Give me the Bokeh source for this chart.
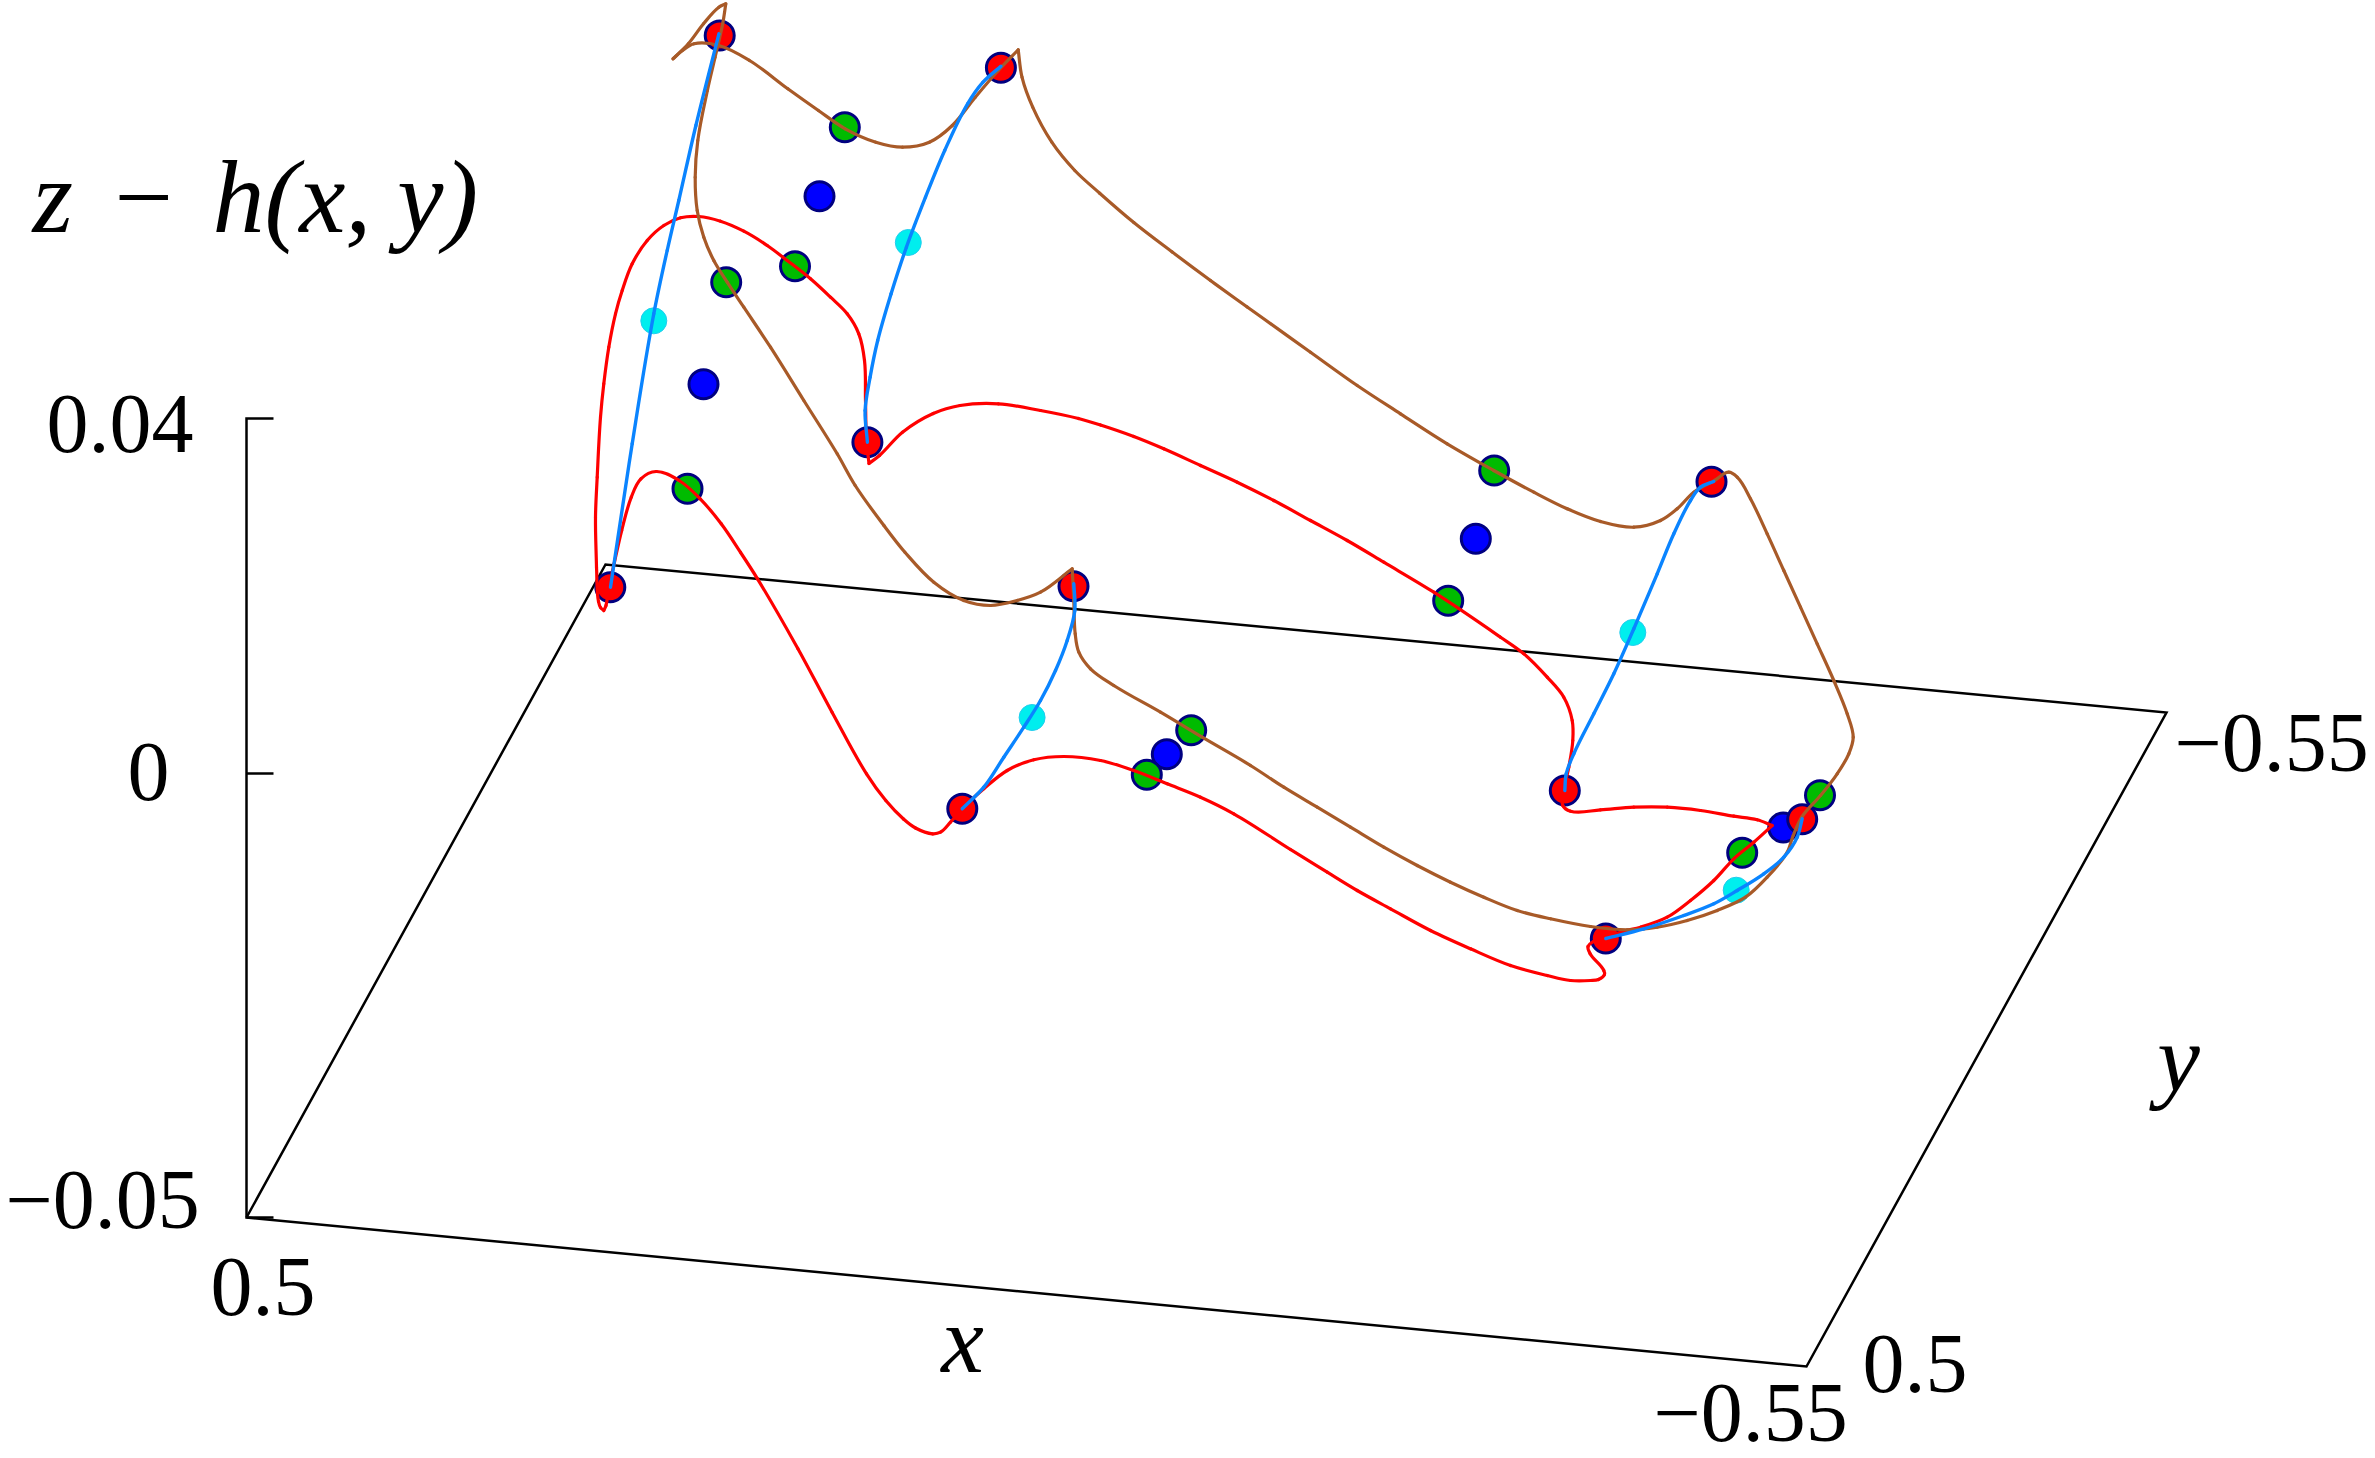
import math
from bokeh.plotting import figure
from bokeh.embed import file_html
from bokeh.resources import INLINE
from bokeh.core.properties import value

# Box of the projected 3D axes (projected picture coordinates)
box_x = [246, 605, 2166, 1806, 246]
box_y = [1217, 564, 712, 1366, 1217]
z_axis_x = [273, 246, 246, 273]
z_axis_y = [418, 418, 1217, 1217]
z_tick0_x = [246, 273]
z_tick0_y = [773, 773]

# Markers
red_x = [719.2, 1000.4, 866.9, 609.8, 1073, 961.8, 1711, 1564.3, 1801.7, 1605.3]
red_y = [35, 67.3, 441.7, 586.7, 585.8, 808.3, 481.3, 790, 818.7, 938]
green_x = [844.3, 794.5, 725.7, 687, 1146.3, 1190.7, 1493.7, 1447.7, 1819.5, 1741.7]
green_y = [126.7, 265.7, 281.7, 488.3, 774.3, 729.7, 470, 600.3, 794.7, 852.3]
blue_x = [819, 703, 1166.3, 1475.3, 1782.7]
blue_y = [195.7, 383.7, 753.7, 538.3, 827]
cyan_x = [907.8, 653.3, 1031.6, 1632.3, 1735.7]
cyan_y = [242, 320.3, 717, 632, 889.7]

# Closed red curve
red_curve_x = [596, 595, 596.7, 600, 603.3, 608.3, 615, 621.7, 631.7, 646.7, 663.3, 680, 698.3, 720, 743.3,
               766.7, 786.7, 810, 830, 846.7, 858.3, 864, 865, 866, 868.5, 879, 902, 932.7, 959.5, 997.8, 1040,
               1078, 1100, 1133.3, 1163.3, 1200, 1236.7, 1273.3, 1310, 1346.7, 1383.3, 1433.3,
               1500, 1523.3, 1546.7, 1563.3, 1571.7, 1572.3, 1568.3, 1563.3, 1562.3, 1570, 1600, 1633.3, 1666.7,
               1700, 1733.3, 1756.7, 1771.7, 1753.3, 1733.3, 1713.3, 1690, 1666.7, 1640, 1623.3, 1600, 1593, 1587.5,
               1589.5, 1603.3, 1604, 1598, 1590, 1570, 1546.7, 1510, 1470, 1430, 1390, 1356.7, 1326.7, 1290,
               1233.3, 1200, 1166.7, 1133.3, 1100, 1063.3, 1033.3, 1006.7, 983.3, 961.7, 950, 940, 932, 915,
               903, 885.3, 866, 831.7, 797.3, 757, 739.9, 720.7, 699.7, 678.6, 655.7, 640.4,
               630.8, 621.2, 613.6, 607.8, 605.5, 603.3, 600, 598, 596]
red_curve_y = [566.7, 516.7, 476.7, 416.7, 383.3, 346.7, 313.3, 290, 263.3, 240, 225, 217.3, 216, 220.7, 230.7,
               245, 260, 278.3, 296.7, 313.3, 333.3, 360, 400, 440, 463, 455, 431.7, 413, 405, 403.3, 410,
               418, 424.5, 436, 448.3, 465, 481.7, 500, 520, 540, 561.7, 591.7,
               636.7, 653.3, 676.7, 696.7, 720, 740, 766.7, 790, 805, 810.7, 809.3, 806.7, 806.7,
               810, 815.7, 819.3, 825, 841.7, 858.3, 880, 900, 916.7, 926.7, 930.7, 938, 941, 946,
               953, 970, 974, 979, 980, 980, 975, 965, 948.3, 930, 908.3, 890, 871.7, 849,
               813.3, 796.7, 783.3, 770, 760, 756, 759.3, 770, 788.3, 808.3, 821.7, 831.7, 833.3, 827.5,
               818.5, 800, 773.3, 712, 648, 578.3, 551.7, 523.3, 498.3, 480, 471, 478.3,
               496.7, 530, 563.3, 590, 605, 610, 607, 601, 566.7]

# Closed brown curve
brown_curve_x = [725.3, 718.4, 703, 687.8, 672.5, 682, 693.5, 718.4, 749, 787.3, 817.9, 844.7, 875.3, 902, 928.9,
                 951.8, 974.8, 997.8, 1017.7, 1021.5, 1032.2, 1051.3, 1074.3, 1099.2, 1133.3, 1171.7, 1210, 1246.7,
                 1310, 1356.7, 1400, 1446.7, 1493.3, 1533.3, 1566.7, 1600, 1633.3, 1660, 1676.7, 1693.3, 1715,
                 1728.3, 1736.7, 1750, 1766.7, 1783.3, 1800, 1816.7, 1833.3, 1846.7, 1852.7, 1848.3, 1836.7, 1820,
                 1801.7, 1792.7, 1786.7, 1766.7, 1745, 1716.7, 1686.7, 1656.7, 1626.7, 1590, 1550, 1516.7, 1483.3,
                 1450, 1416.7, 1383.3, 1350, 1316.7, 1283.3, 1250, 1201.7, 1160, 1113.3, 1090, 1078.3, 1074.7,
                 1073.3, 1071.7, 1040, 1016.7, 990, 963.3, 933.3, 904.4, 883.4, 854.7, 836.7, 803.3, 770, 743.3,
                 726.7, 713.3, 703.3, 696.7, 694.7, 697.3, 706.9, 714.6, 722.2, 725.3]
brown_curve_y = [3.3, 6.7, 23.3, 43.3, 58.3, 50, 43.3, 45, 60, 88.3, 110, 128.3, 141.7, 146.7, 141.7,
                 125, 96.7, 70, 49.3, 76.7, 106.7, 141.7, 170, 192.7, 222, 251.5, 280, 306.5,
                 351.7, 385, 413.3, 443.3, 470, 491.7, 508.3, 521, 526.7, 520, 508.3, 491.7, 479.3,
                 471.7, 476.7, 498.3, 533.3, 570, 606.7, 643.3, 680, 713.3, 736.7, 753.3, 773.3, 795,
                 816, 835, 851.7, 876.7, 896.7, 910, 920, 926.7, 929.3, 926, 918.3, 910, 896.7,
                 881.7, 865, 846.7, 826.7, 806.7, 786.7, 765, 736.7, 711.7, 685, 668.3, 651.7, 633.3,
                 600, 568.3, 591.7, 600, 605, 600, 581.7, 551.7, 525, 485, 453.3, 400, 346.7, 306.7,
                 281.7, 260, 236.7, 210, 176.7, 140, 90, 56.7, 23.3, 3.3]

# Sky-blue edges
edge1_x = [610, 631.7, 653.3, 666.7, 678.3, 695.4, 718.4]
edge1_y = [586.7, 443.3, 313.3, 250, 200, 125, 33.3]
edge2_x = [866.9, 864.6, 869.6, 877.2, 890.6, 905.9, 925, 944.2, 967.1, 982.5, 1000.4]
edge2_y = [441.7, 410, 376.7, 340, 293.3, 246.7, 196.7, 150, 103.3, 81.7, 65.7]
edge3_x = [1073.3, 1074.3, 1066.7, 1055, 1040, 1023.3, 1003.3, 983.3, 961.7]
edge3_y = [583.3, 610, 640, 670, 700, 726.7, 756.7, 786.7, 808.3]
edge4_x = [1713.3, 1700, 1690, 1673.3, 1656.7, 1633.3, 1613.3, 1593.3, 1573.3, 1565.7, 1564.3]
edge4_y = [481, 486.7, 500, 533.3, 573.3, 628.3, 673.3, 713.3, 753.3, 773.3, 790]
edge5_x = [1801.7, 1796.7, 1783.3, 1763.3, 1736.7, 1713.3, 1683.3, 1643.3, 1605.3]
edge5_y = [818.3, 836.7, 856.7, 873.3, 890, 903.3, 915, 928.3, 938]

# Tick labels and axis titles: (text, x, baseline y, align)
tick_labels = [("0.04", 46, 453, "left"), ("0", 148, 801, "center"), ("\u22120.05", 5, 1229, "left"),
               ("0.5", 210, 1316, "left"), ("\u22120.55", 1653, 1442, "left"), ("0.5", 1862, 1393, "left"),
               ("\u22120.55", 2174, 772, "left")]
titles = [("z\u2004\u2212\u2004h(x, y)", 32, 235, "left", 104), ("x", 962, 1375, "center", 96),
          ("y", 2178, 1094, "center", 96)]


def smooth_stroke(fig, xs, ys, **style):
    """Stroke the read points as a smooth path (Bezier rendering only; the arrays stay as read)."""
    n = len(xs)
    def tangent(i):
        if i == 0 or i == n - 1:
            return None
        ax, ay = xs[i] - xs[i - 1], ys[i] - ys[i - 1]
        bx, by = xs[i + 1] - xs[i], ys[i + 1] - ys[i]
        la, lb = math.hypot(ax, ay), math.hypot(bx, by)
        if la == 0 or lb == 0 or (ax * bx + ay * by) / (la * lb) < 0.35:
            return None  # a cusp of the curve stays sharp
        dx, dy = ax / la + bx / lb, ay / la + by / lb
        d = math.hypot(dx, dy)
        return dx / d, dy / d
    tans = [tangent(i) for i in range(n)]
    x0, y0, x1, y1, cx0, cy0, cx1, cy1 = [], [], [], [], [], [], [], []
    for i in range(n - 1):
        L = math.hypot(xs[i + 1] - xs[i], ys[i + 1] - ys[i])
        ux, uy = (xs[i + 1] - xs[i]) / (L or 1), (ys[i + 1] - ys[i]) / (L or 1)
        t0 = tans[i] or (ux, uy)
        t1 = tans[i + 1] or (ux, uy)
        x0.append(xs[i]); y0.append(ys[i]); x1.append(xs[i + 1]); y1.append(ys[i + 1])
        cx0.append(xs[i] + t0[0] * L / 3); cy0.append(ys[i] + t0[1] * L / 3)
        cx1.append(xs[i + 1] - t1[0] * L / 3); cy1.append(ys[i + 1] - t1[1] * L / 3)
    fig.bezier(x0, y0, x1, y1, cx0, cy0, cx1, cy1, line_cap="round", **style)


p = figure(width=2375, height=1458, x_range=(0, 2375), y_range=(1458, 0), output_backend="svg",
           toolbar_location=None, x_axis_type=None, y_axis_type=None, min_border=0,
           outline_line_color=None, background_fill_color="white")
p.grid.visible = False

AXW = 2.5
p.line(box_x, box_y, line_color="black", line_width=AXW, line_join="miter")
p.line(z_axis_x, z_axis_y, line_color="black", line_width=AXW, line_join="miter")
p.line(z_tick0_x, z_tick0_y, line_color="black", line_width=AXW)

p.scatter(cyan_x, cyan_y, size=26, fill_color="#00eeee", line_color="#22ccee", line_width=1)
p.scatter(blue_x, blue_y, size=29, fill_color="#0000ff", line_color="#000080", line_width=3)
p.scatter(green_x, green_y, size=29, fill_color="#00bb00", line_color="#000080", line_width=3)
p.scatter(red_x, red_y, size=29, fill_color="#ff0000", line_color="#000080", line_width=3)

smooth_stroke(p, red_curve_x, red_curve_y, line_color="#ff0000", line_width=3.2)
smooth_stroke(p, brown_curve_x, brown_curve_y, line_color="#a85a28", line_width=3.2)
for ex, ey in [(edge1_x, edge1_y), (edge2_x, edge2_y), (edge3_x, edge3_y), (edge4_x, edge4_y), (edge5_x, edge5_y)]:
    smooth_stroke(p, ex, ey, line_color="#0a84ff", line_width=3.4)

for t, x, y, a in tick_labels:
    p.text([x], [y], text=[t], y_offset=-30, text_font=value("Liberation Serif"), text_font_size="84px",
           text_align=a, text_baseline="alphabetic", text_color="black")
for t, x, y, a, fs in titles:
    p.text([x], [y], text=[t], y_offset=-0.375 * fs, text_font=value("Liberation Serif"), text_font_size=f"{fs}px",
           text_font_style="italic", text_align=a, text_baseline="alphabetic", text_color="black")

open("out.html", "w").write(file_html(p, INLINE))
